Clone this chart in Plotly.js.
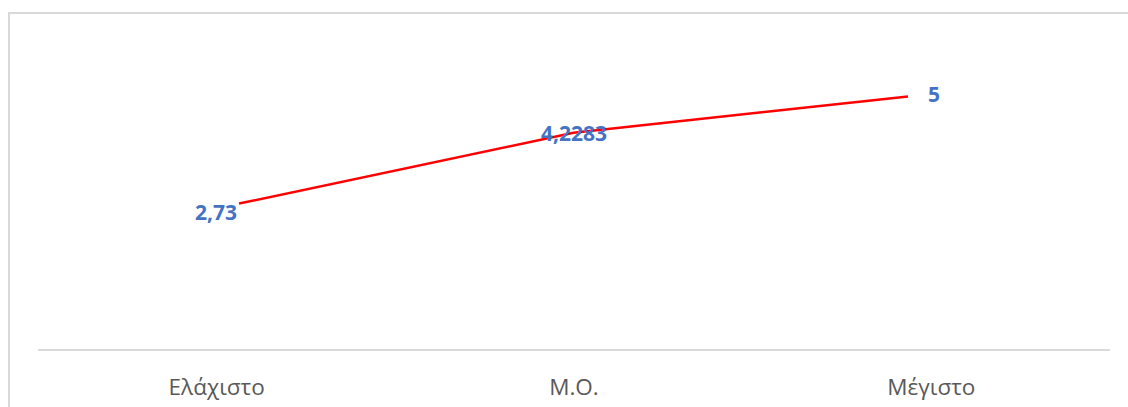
<!DOCTYPE html>
<html>
<head>
<meta charset="utf-8">
<script src="https://cdn.plot.ly/plotly-3.0.1.min.js"></script>
<style>
  html, body { margin: 0; padding: 0; background: #ffffff; overflow: hidden; }
  #frame {
    position: absolute; left: 8px; top: 12px; width: 1140px; height: 420px;
    border: 2px solid #d9d9d9; box-sizing: border-box;
  }
  #chart { position: absolute; left: 0; top: 0; width: 1128px; height: 407px; }
</style>
</head>
<body>
<div id="frame"></div>
<div id="chart"></div>
<script>
// Summary statistics: minimum, mean, maximum
const categories = ['Ελάχιστο', 'Μ.Ο.', 'Μέγιστο'];
const values = [2.73, 4.2283, 5];

// Greek number formatting uses a decimal comma
const fmt = v => String(v).replace('.', ',');

// Category axis carrying the labels (markers hidden)
const axisTrace = {
  x: categories,
  y: values,
  type: 'scatter',
  mode: 'none',
  xaxis: 'x',
  yaxis: 'y',
  hoverinfo: 'skip'
};

// The red line, on its own overlaying category scale
const lineTrace = {
  x: categories,
  y: values,
  type: 'scatter',
  mode: 'lines',
  xaxis: 'x2',
  yaxis: 'y',
  line: { color: '#ff0000', width: 2.5 },
  hoverinfo: 'skip'
};

// Label placement per point: left of the first, on the middle, right of the last
const labelAnchor = ['right', 'center', 'left'];
const labelShiftX = [-1, 0, 19];
const labelShiftY = [-8, 0, 2];

const annotations = categories.map((c, i) => ({
  x: c,
  y: values[i],
  xref: 'x2',
  yref: 'y',
  text: fmt(values[i]),
  showarrow: false,
  xanchor: labelAnchor[i],
  yanchor: 'middle',
  xshift: labelShiftX[i],
  yshift: labelShiftY[i],
  borderpad: 0,
  font: { family: 'Open Sans, sans-serif', size: 21, color: '#4472c4', weight: 'bold' }
}));

const layout = {
  width: 1128,
  height: 407,
  margin: { l: 38, r: 18, t: 44, b: 58 },
  paper_bgcolor: 'rgba(0,0,0,0)',
  plot_bgcolor: 'rgba(0,0,0,0)',
  showlegend: false,
  xaxis: {
    type: 'category',
    range: [-0.5, 2.5],
    showgrid: false,
    zeroline: false,
    showline: true,
    linecolor: '#d9d9d9',
    linewidth: 2,
    ticks: '',
    ticklabelstandoff: 17,
    tickfont: { family: 'Open Sans, sans-serif', size: 22.5, color: '#595959' },
    fixedrange: true
  },
  xaxis2: {
    type: 'category',
    overlaying: 'x',
    range: [-0.601, 2.604],
    visible: false,
    fixedrange: true
  },
  yaxis: {
    range: [-0.35, 6.11],
    showgrid: false,
    zeroline: false,
    showline: false,
    showticklabels: false,
    ticks: '',
    fixedrange: true
  },
  annotations: annotations
};

Plotly.newPlot('chart', [axisTrace, lineTrace], layout, { staticPlot: true, displayModeBar: false });
</script>
</body>
</html>
